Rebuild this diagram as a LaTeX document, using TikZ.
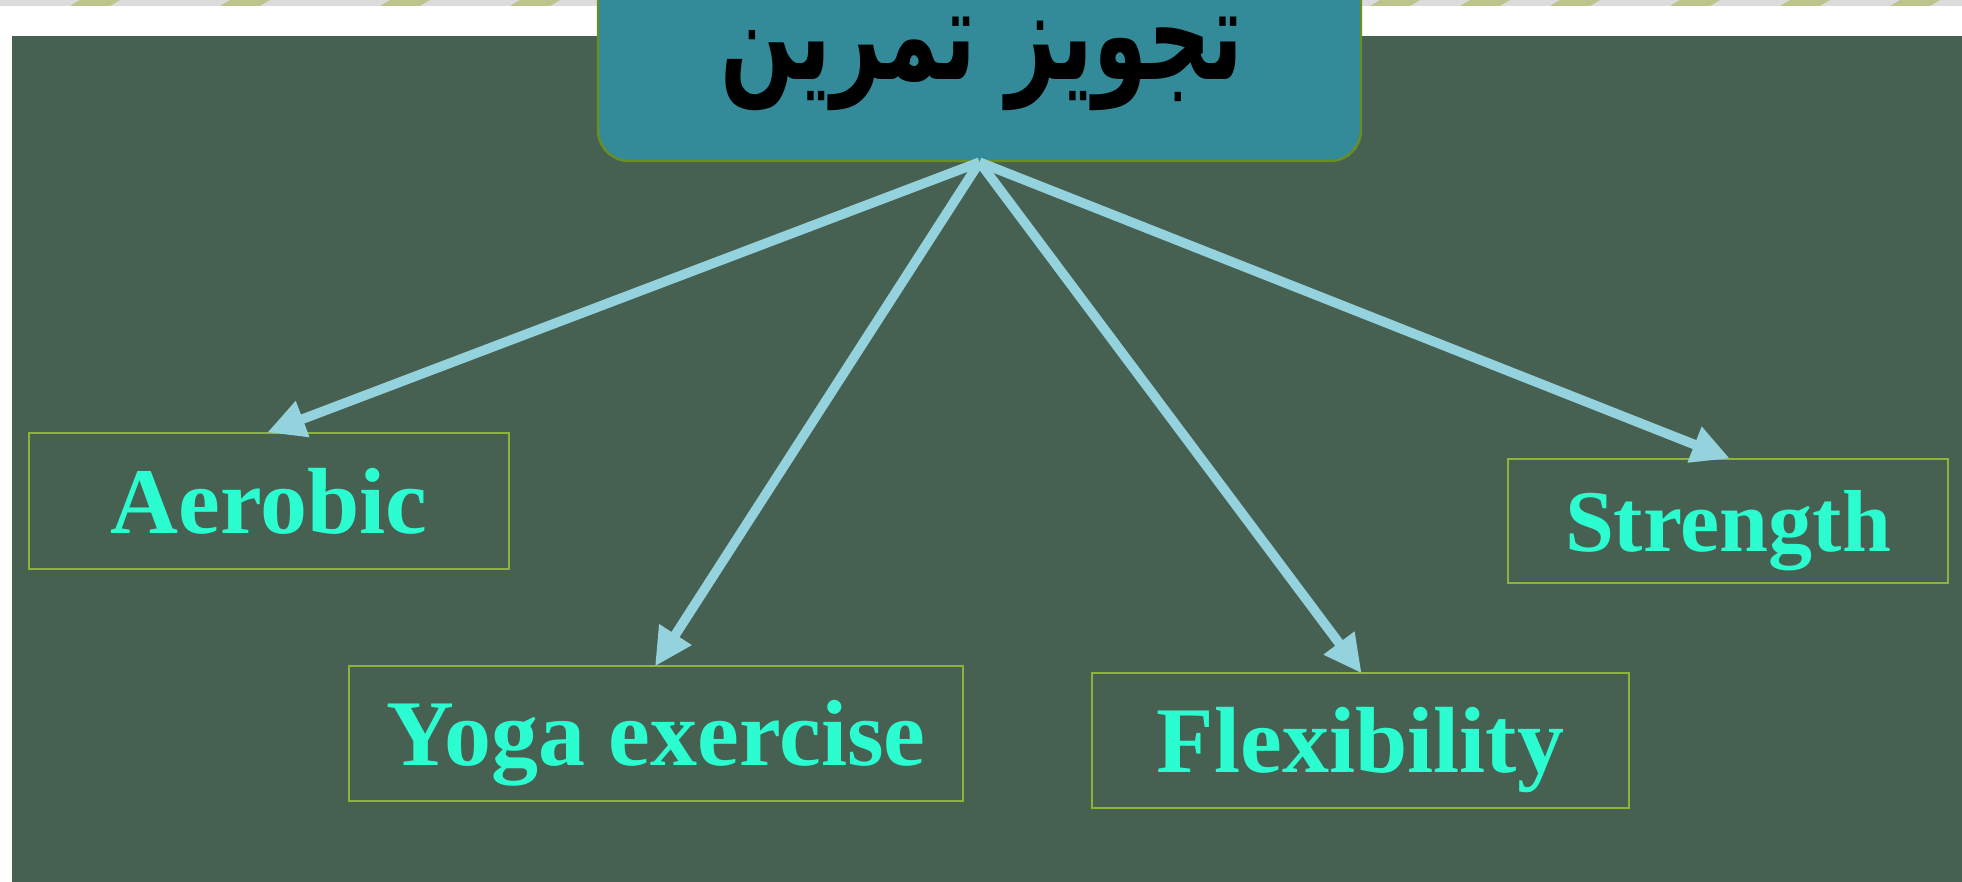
\documentclass[tikz,border=0pt]{standalone}
\usepackage{fontspec}
\setmainfont{Liberation Serif}
\newfontfamily\arabicfont[Script=Arabic]{DejaVu Sans}
\TeXXeTstate=1
\usetikzlibrary{arrows.meta}
\definecolor{bggreen}{RGB}{70,97,82}
\definecolor{titlefill}{RGB}{51,138,153}
\definecolor{titleborder}{RGB}{107,142,35}
\definecolor{boxborder}{RGB}{141,179,58}
\definecolor{labeltext}{RGB}{43,253,208}
\definecolor{arrowblue}{RGB}{148,210,222}
\definecolor{topgrey}{RGB}{220,220,220}
\definecolor{topolive}{RGB}{190,196,140}
\tikzset{
  itembox/.style={draw=boxborder, line width=1.2pt, text=labeltext,
    font=\fontsize{47}{50}\selectfont\bfseries, inner sep=0pt, anchor=center,
    text height=32pt, text depth=0pt},
  linkarrow/.style={draw=arrowblue, line width=4.8pt,
    -{Triangle[length=19pt,width=18pt]}, shorten >=-1pt}
}
\begin{document}
\begin{tikzpicture}[x=0.5pt,y=-0.5pt]
\useasboundingbox (0,0) rectangle (1962,882);
\clip (0,0) rectangle (1962,882);
\fill[white] (0,0) rectangle (1962,882);
% top strip
\fill[topgrey] (0,0) rectangle (1962,6);
\foreach \xx in {80,230,390,520,640,790,1380,1470,1560,1680,1790,1900}
  \fill[topolive] (\xx,0) -- (\xx+40,0) -- (\xx+30,6) -- (\xx-10,6) -- cycle;
% background
\fill[bggreen] (12,36) rectangle (1962,882);
% title
\node[draw=titleborder, line width=1.2pt, fill=titlefill, rounded corners=15.5pt,
  minimum width=763*0.5pt, minimum height=241*0.5pt, inner sep=0pt]
  (title) at (979.5,40.5) {};
\node[font=\arabicfont\bfseries\fontsize{64}{70}\selectfont, text=black, inner sep=0pt]
  (titletext) at (982,64) {\scalebox{0.68}[1]{\beginR تجویز تمرین\endR}};
\coordinate (origin) at (title.south);
% boxes
\node[itembox, minimum width=480*0.5pt, minimum height=136*0.5pt] (aero) at (269,501) {Aerobic};
\node[itembox, minimum width=614*0.5pt, minimum height=135*0.5pt] (yoga) at (656,733.5) {Yoga exercise};
\node[itembox, minimum width=537*0.5pt, minimum height=135*0.5pt] (flex) at (1360.5,740.5) {Flexibility};
\node[itembox, minimum width=440*0.5pt, minimum height=124*0.5pt, font=\fontsize{44}{48}\selectfont\bfseries, text height=30pt] (str) at (1728,521) {Strength};
% arrows
\draw[linkarrow] (origin) -- (aero.north);
\draw[linkarrow] (origin) -- (yoga.north);
\draw[linkarrow] (origin) -- (flex.north);
\draw[linkarrow] (origin) -- (str.north);
\end{tikzpicture}
\end{document}
